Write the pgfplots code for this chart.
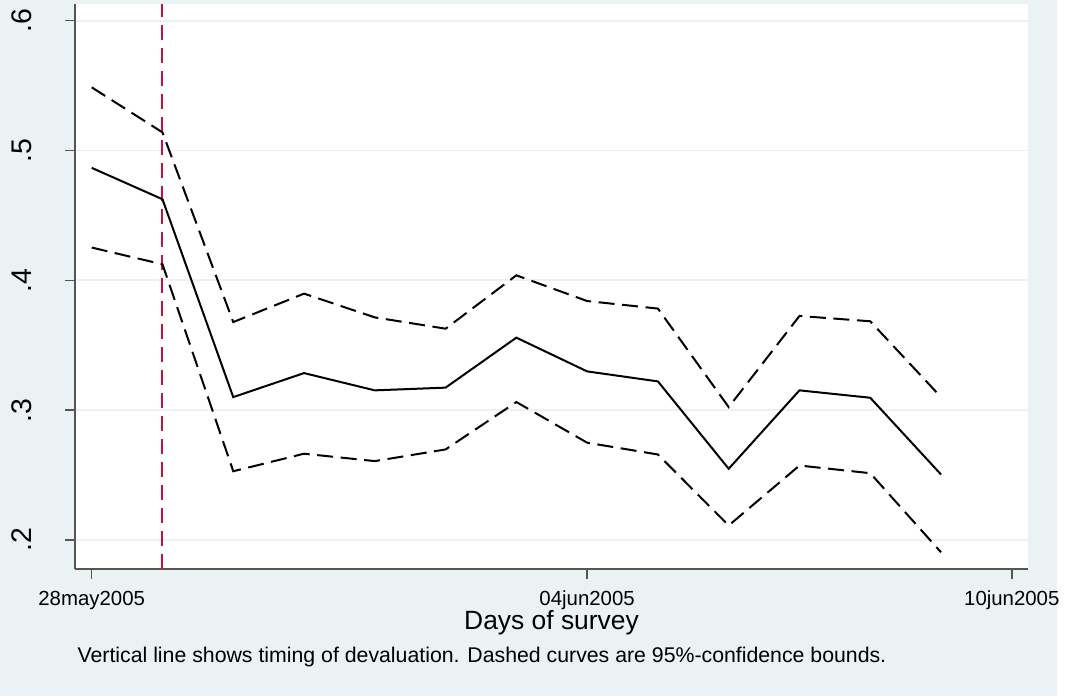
\documentclass[border=0pt]{standalone}
\usepackage{pgfplots}
\pgfplotsset{compat=1.18}
\usepackage{fontspec}
\setmainfont{Liberation Sans}

\definecolor{stbg}{RGB}{234,242,243}
\definecolor{stgrid}{RGB}{234,242,243}
\definecolor{refred}{RGB}{200,16,60}
\definecolor{axgray}{RGB}{85,85,85}

% estimated share by day of survey (day 0 = 28may2005)
\pgfplotstableread{
day  est     lo      hi
0    0.4867  0.4253  0.5487
1    0.4625  0.4124  0.5140
2    0.3101  0.2530  0.3679
3    0.3286  0.2665  0.3898
4    0.3153  0.2608  0.3715
5    0.3174  0.2698  0.3628
6    0.3559  0.3063  0.4039
7    0.3299  0.2750  0.3841
8    0.3222  0.2659  0.3783
9    0.2549  0.2112  0.3024
10   0.3153  0.2574  0.3726
11   0.3096  0.2515  0.3685
12   0.2505  0.1906  0.3101
}\surveydata

\begin{document}
\begin{tikzpicture}[x=1pt,y=1pt]
\fill[white] (0,0) rectangle (535,348);
\fill[stbg] (0,0) rectangle (528.5,348);
\begin{axis}[
    at={(37.5pt,63.5pt)}, anchor=south west,
    scale only axis,
    width=476.5pt, height=282.5pt,
    xmin=-0.236, xmax=13.229,
    ymin=0.1777, ymax=0.6129,
    axis x line*=bottom, axis y line*=left,
    axis line style={axgray, line width=0.75pt},
    axis background/.style={fill=white},
    tick align=outside,
    major tick length=5pt,
    tick style={axgray, line width=0.75pt},
    xtick={0,7,13},
    xticklabels={28may2005,04jun2005,10jun2005},
    ytick={0.2,0.3,0.4,0.5,0.6},
    yticklabels={.2,.3,.4,.5,.6},
    xticklabel style={font=\fontsize{10.2}{12}\selectfont, yshift=-2.5pt},
    yticklabel style={font=\fontsize{14.2}{16}\selectfont, xshift=-16.5pt, rotate=90, anchor=base},
    ymajorgrids=true,
    grid style={stgrid, line width=0.9pt},
    xlabel={Days of survey},
    xlabel style={font=\fontsize{13.2}{15}\selectfont, at={(axis description cs:0.5,0)}, anchor=base, yshift=-30.5pt},
    clip=false,
]

\addplot[refred, line width=1pt, dash pattern=on 7.5pt off 4pt]
    coordinates {(1,0.1777) (1,0.6129)};

\addplot[black, line width=1pt] table[x=day, y=est] {\surveydata};
\addplot[black, line width=1pt, dash pattern=on 8pt off 3.8pt] table[x=day, y=hi] {\surveydata};
\addplot[black, line width=1pt, dash pattern=on 8pt off 3.8pt] table[x=day, y=lo] {\surveydata};

\end{axis}
\node[anchor=base west, inner sep=0pt, font=\fontsize{10.64}{12}\selectfont]
    at (38.6,17) {Vertical line shows timing of devaluation. Dashed curves are 95\%-confidence bounds.};
\end{tikzpicture}
\end{document}
